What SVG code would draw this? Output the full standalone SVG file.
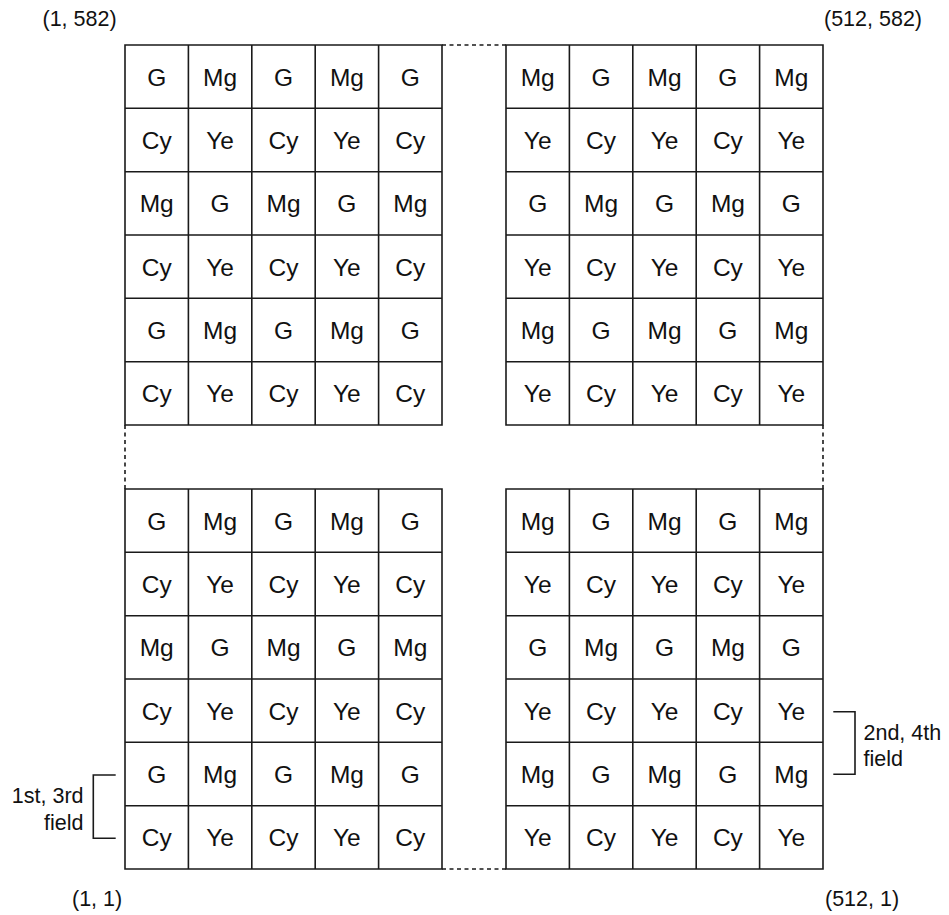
<svg xmlns="http://www.w3.org/2000/svg" width="949" height="915" viewBox="0 0 949 915">
<style>
.g{fill:none;stroke:#1a1a1a;stroke-width:1.6}
.d{fill:none;stroke:#1a1a1a;stroke-width:1.6;stroke-dasharray:4 3.5}
.c{font-family:"Liberation Sans",Arial,sans-serif;font-size:24.5px;fill:#111;text-anchor:middle}
.l{font-family:"Liberation Sans",Arial,sans-serif;font-size:21.5px;fill:#111}
</style>
<rect width="949" height="915" fill="#fff"/>
<g id="grid-top-left">
<path class="g" d="M125,45H442V425H125Z M188.4,45V425 M251.8,45V425 M315.2,45V425 M378.6,45V425 M125,108.3H442 M125,171.7H442 M125,235H442 M125,298.3H442 M125,361.7H442"/>
<text class="c" x="156.7" y="85.5">G</text><text class="c" x="220.1" y="85.5">Mg</text><text class="c" x="283.5" y="85.5">G</text><text class="c" x="346.9" y="85.5">Mg</text><text class="c" x="410.3" y="85.5">G</text>
<text class="c" x="156.7" y="148.8">Cy</text><text class="c" x="220.1" y="148.8">Ye</text><text class="c" x="283.5" y="148.8">Cy</text><text class="c" x="346.9" y="148.8">Ye</text><text class="c" x="410.3" y="148.8">Cy</text>
<text class="c" x="156.7" y="212.1">Mg</text><text class="c" x="220.1" y="212.1">G</text><text class="c" x="283.5" y="212.1">Mg</text><text class="c" x="346.9" y="212.1">G</text><text class="c" x="410.3" y="212.1">Mg</text>
<text class="c" x="156.7" y="275.5">Cy</text><text class="c" x="220.1" y="275.5">Ye</text><text class="c" x="283.5" y="275.5">Cy</text><text class="c" x="346.9" y="275.5">Ye</text><text class="c" x="410.3" y="275.5">Cy</text>
<text class="c" x="156.7" y="338.8">G</text><text class="c" x="220.1" y="338.8">Mg</text><text class="c" x="283.5" y="338.8">G</text><text class="c" x="346.9" y="338.8">Mg</text><text class="c" x="410.3" y="338.8">G</text>
<text class="c" x="156.7" y="402.1">Cy</text><text class="c" x="220.1" y="402.1">Ye</text><text class="c" x="283.5" y="402.1">Cy</text><text class="c" x="346.9" y="402.1">Ye</text><text class="c" x="410.3" y="402.1">Cy</text>
</g>
<g id="grid-top-right">
<path class="g" d="M506,45H823V425H506Z M569.4,45V425 M632.8,45V425 M696.2,45V425 M759.6,45V425 M506,108.3H823 M506,171.7H823 M506,235H823 M506,298.3H823 M506,361.7H823"/>
<text class="c" x="537.7" y="85.5">Mg</text><text class="c" x="601.1" y="85.5">G</text><text class="c" x="664.5" y="85.5">Mg</text><text class="c" x="727.9" y="85.5">G</text><text class="c" x="791.3" y="85.5">Mg</text>
<text class="c" x="537.7" y="148.8">Ye</text><text class="c" x="601.1" y="148.8">Cy</text><text class="c" x="664.5" y="148.8">Ye</text><text class="c" x="727.9" y="148.8">Cy</text><text class="c" x="791.3" y="148.8">Ye</text>
<text class="c" x="537.7" y="212.1">G</text><text class="c" x="601.1" y="212.1">Mg</text><text class="c" x="664.5" y="212.1">G</text><text class="c" x="727.9" y="212.1">Mg</text><text class="c" x="791.3" y="212.1">G</text>
<text class="c" x="537.7" y="275.5">Ye</text><text class="c" x="601.1" y="275.5">Cy</text><text class="c" x="664.5" y="275.5">Ye</text><text class="c" x="727.9" y="275.5">Cy</text><text class="c" x="791.3" y="275.5">Ye</text>
<text class="c" x="537.7" y="338.8">Mg</text><text class="c" x="601.1" y="338.8">G</text><text class="c" x="664.5" y="338.8">Mg</text><text class="c" x="727.9" y="338.8">G</text><text class="c" x="791.3" y="338.8">Mg</text>
<text class="c" x="537.7" y="402.1">Ye</text><text class="c" x="601.1" y="402.1">Cy</text><text class="c" x="664.5" y="402.1">Ye</text><text class="c" x="727.9" y="402.1">Cy</text><text class="c" x="791.3" y="402.1">Ye</text>
</g>
<g id="grid-bottom-left">
<path class="g" d="M125,489H442V869H125Z M188.4,489V869 M251.8,489V869 M315.2,489V869 M378.6,489V869 M125,552.3H442 M125,615.7H442 M125,679H442 M125,742.3H442 M125,805.7H442"/>
<text class="c" x="156.7" y="529.5">G</text><text class="c" x="220.1" y="529.5">Mg</text><text class="c" x="283.5" y="529.5">G</text><text class="c" x="346.9" y="529.5">Mg</text><text class="c" x="410.3" y="529.5">G</text>
<text class="c" x="156.7" y="592.8">Cy</text><text class="c" x="220.1" y="592.8">Ye</text><text class="c" x="283.5" y="592.8">Cy</text><text class="c" x="346.9" y="592.8">Ye</text><text class="c" x="410.3" y="592.8">Cy</text>
<text class="c" x="156.7" y="656.1">Mg</text><text class="c" x="220.1" y="656.1">G</text><text class="c" x="283.5" y="656.1">Mg</text><text class="c" x="346.9" y="656.1">G</text><text class="c" x="410.3" y="656.1">Mg</text>
<text class="c" x="156.7" y="719.5">Cy</text><text class="c" x="220.1" y="719.5">Ye</text><text class="c" x="283.5" y="719.5">Cy</text><text class="c" x="346.9" y="719.5">Ye</text><text class="c" x="410.3" y="719.5">Cy</text>
<text class="c" x="156.7" y="782.8">G</text><text class="c" x="220.1" y="782.8">Mg</text><text class="c" x="283.5" y="782.8">G</text><text class="c" x="346.9" y="782.8">Mg</text><text class="c" x="410.3" y="782.8">G</text>
<text class="c" x="156.7" y="846.1">Cy</text><text class="c" x="220.1" y="846.1">Ye</text><text class="c" x="283.5" y="846.1">Cy</text><text class="c" x="346.9" y="846.1">Ye</text><text class="c" x="410.3" y="846.1">Cy</text>
</g>
<g id="grid-bottom-right">
<path class="g" d="M506,489H823V869H506Z M569.4,489V869 M632.8,489V869 M696.2,489V869 M759.6,489V869 M506,552.3H823 M506,615.7H823 M506,679H823 M506,742.3H823 M506,805.7H823"/>
<text class="c" x="537.7" y="529.5">Mg</text><text class="c" x="601.1" y="529.5">G</text><text class="c" x="664.5" y="529.5">Mg</text><text class="c" x="727.9" y="529.5">G</text><text class="c" x="791.3" y="529.5">Mg</text>
<text class="c" x="537.7" y="592.8">Ye</text><text class="c" x="601.1" y="592.8">Cy</text><text class="c" x="664.5" y="592.8">Ye</text><text class="c" x="727.9" y="592.8">Cy</text><text class="c" x="791.3" y="592.8">Ye</text>
<text class="c" x="537.7" y="656.1">G</text><text class="c" x="601.1" y="656.1">Mg</text><text class="c" x="664.5" y="656.1">G</text><text class="c" x="727.9" y="656.1">Mg</text><text class="c" x="791.3" y="656.1">G</text>
<text class="c" x="537.7" y="719.5">Ye</text><text class="c" x="601.1" y="719.5">Cy</text><text class="c" x="664.5" y="719.5">Ye</text><text class="c" x="727.9" y="719.5">Cy</text><text class="c" x="791.3" y="719.5">Ye</text>
<text class="c" x="537.7" y="782.8">Mg</text><text class="c" x="601.1" y="782.8">G</text><text class="c" x="664.5" y="782.8">Mg</text><text class="c" x="727.9" y="782.8">G</text><text class="c" x="791.3" y="782.8">Mg</text>
<text class="c" x="537.7" y="846.1">Ye</text><text class="c" x="601.1" y="846.1">Cy</text><text class="c" x="664.5" y="846.1">Ye</text><text class="c" x="727.9" y="846.1">Cy</text><text class="c" x="791.3" y="846.1">Ye</text>
</g>
<g id="connectors">
<path class="d" d="M442,45H506 M442,869H506 M125,425V489 M823,425V489"/>
<path class="g" d="M115.7,775H93.3V838.3H115.7"/>
<path class="g" d="M833.3,711.7H855V774.3H833.3"/>
</g>
<g id="labels">
<text class="l" x="42.5" y="26">(1, 582)</text>
<text class="l" x="824" y="26">(512, 582)</text>
<text class="l" x="72" y="906">(1, 1)</text>
<text class="l" x="825" y="906">(512, 1)</text>
<text class="l" x="83.5" y="803" text-anchor="end">1st, 3rd</text>
<text class="l" x="83.5" y="830" text-anchor="end">field</text>
<text class="l" x="863.5" y="740">2nd, 4th</text>
<text class="l" x="863.5" y="766">field</text>
</g>
</svg>
